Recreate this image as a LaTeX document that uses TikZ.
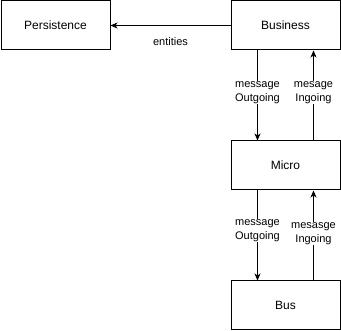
\documentclass[tikz,border=0pt]{standalone}
\usepackage{fontspec}
\setmainfont{Liberation Sans}
\usetikzlibrary{arrows.meta}

\begin{document}
\begin{tikzpicture}[x=1pt,y=-1pt,
    layer/.style={draw,line width=1pt,minimum width=109pt,minimum height=49pt,
      inner sep=0pt,font=\fontsize{12}{14}\selectfont},
    flow/.style={line width=1pt,-{Stealth[length=7pt,width=6pt,inset=2pt]}},
    flowlabel/.style={fill=white,align=center,inner sep=1pt,
      font=\fontsize{11}{13.5}\selectfont}]
  \useasboundingbox (0,0) rectangle (341,331);
  % Layers
  \node[layer] (persist) at (55.5,25.5) {Persistence};
  \node[layer] (business) at (285.5,25.5) {Business};
  \node[layer] (micro) at (285.5,165.5) {Micro};
  \node[layer] (bus) at (285.5,305.5) {Bus};
  % Business -> Persistence
  \draw[flow] (business.west) -- (persist.east)
    node[midway,below=8pt,font=\fontsize{11}{13}\selectfont] {entities};
  % Business <-> Micro
  \draw[flow] ([xshift=-28pt]business.south) -- ([xshift=-28pt]micro.north)
    node[flowlabel,pos=0.467] {message\\Outgoing};
  \draw[flow] ([xshift=28pt]micro.north) -- ([xshift=28pt]business.south)
    node[flowlabel,pos=0.533] {mesage\\Ingoing};
  % Micro <-> Bus
  \draw[flow] ([xshift=-28pt]micro.south) -- ([xshift=-28pt]bus.north)
    node[flowlabel,pos=0.444] {message\\Outgoing};
  \draw[flow] ([xshift=28pt]bus.north) -- ([xshift=28pt]micro.south)
    node[flowlabel,pos=0.522] {mesasge\\Ingoing};
\end{tikzpicture}
\end{document}
